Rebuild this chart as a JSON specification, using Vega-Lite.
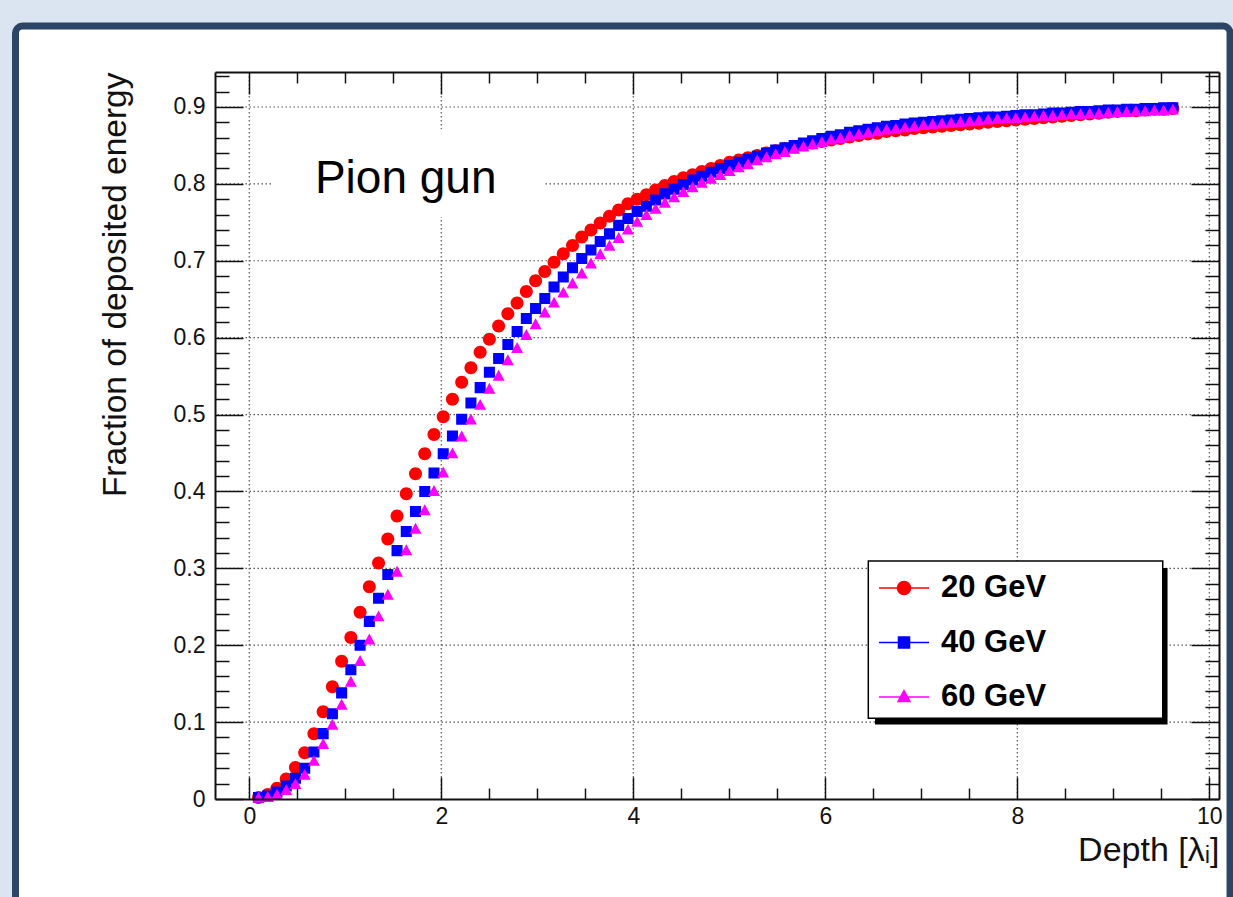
{
"$schema": "https://vega.github.io/schema/vega-lite/v6.json",
"width": 1004,
"height": 727,
"autosize": "none",
"padding": {"left": 215, "top": 72, "right": 14, "bottom": 98},
"background": "#dbe5f1",
"config": {"view": {"stroke": null}, "font": "Liberation Sans"},
"resolve": {"axis": {"x": "independent", "y": "independent"}},
"datasets": {
"curves": [
{"d":0.0962,"20 GeV":0.002,"40 GeV":0.002,"60 GeV":0.001},
{"d":0.1924,"20 GeV":0.006,"40 GeV":0.004,"60 GeV":0.002},
{"d":0.2886,"20 GeV":0.014,"40 GeV":0.009,"60 GeV":0.005},
{"d":0.3848,"20 GeV":0.026,"40 GeV":0.017,"60 GeV":0.011},
{"d":0.481,"20 GeV":0.041,"40 GeV":0.027,"60 GeV":0.019},
{"d":0.5772,"20 GeV":0.060,"40 GeV":0.040,"60 GeV":0.031},
{"d":0.6734,"20 GeV":0.085,"40 GeV":0.061,"60 GeV":0.049},
{"d":0.7696,"20 GeV":0.1135,"40 GeV":0.085,"60 GeV":0.071},
{"d":0.8658,"20 GeV":0.146,"40 GeV":0.111,"60 GeV":0.096},
{"d":0.962,"20 GeV":0.179,"40 GeV":0.138,"60 GeV":0.122},
{"d":1.0582,"20 GeV":0.210,"40 GeV":0.168,"60 GeV":0.152},
{"d":1.1544,"20 GeV":0.243,"40 GeV":0.200,"60 GeV":0.179},
{"d":1.2506,"20 GeV":0.276,"40 GeV":0.231,"60 GeV":0.207},
{"d":1.3468,"20 GeV":0.307,"40 GeV":0.261,"60 GeV":0.237},
{"d":1.443,"20 GeV":0.338,"40 GeV":0.292,"60 GeV":0.265},
{"d":1.5392,"20 GeV":0.368,"40 GeV":0.323,"60 GeV":0.295},
{"d":1.6354,"20 GeV":0.397,"40 GeV":0.348,"60 GeV":0.323},
{"d":1.7316,"20 GeV":0.423,"40 GeV":0.374,"60 GeV":0.351},
{"d":1.8278,"20 GeV":0.449,"40 GeV":0.400,"60 GeV":0.375},
{"d":1.924,"20 GeV":0.474,"40 GeV":0.424,"60 GeV":0.400},
{"d":2.0202,"20 GeV":0.497,"40 GeV":0.449,"60 GeV":0.424},
{"d":2.1164,"20 GeV":0.520,"40 GeV":0.472,"60 GeV":0.449},
{"d":2.2126,"20 GeV":0.542,"40 GeV":0.494,"60 GeV":0.471},
{"d":2.3088,"20 GeV":0.561,"40 GeV":0.515,"60 GeV":0.493},
{"d":2.405,"20 GeV":0.581,"40 GeV":0.535,"60 GeV":0.512},
{"d":2.5012,"20 GeV":0.598,"40 GeV":0.555,"60 GeV":0.533},
{"d":2.5974,"20 GeV":0.615,"40 GeV":0.573,"60 GeV":0.550},
{"d":2.6936,"20 GeV":0.631,"40 GeV":0.591,"60 GeV":0.570},
{"d":2.7898,"20 GeV":0.645,"40 GeV":0.608,"60 GeV":0.586},
{"d":2.886,"20 GeV":0.660,"40 GeV":0.625,"60 GeV":0.603},
{"d":2.9822,"20 GeV":0.674,"40 GeV":0.638,"60 GeV":0.617},
{"d":3.0784,"20 GeV":0.686,"40 GeV":0.651,"60 GeV":0.632},
{"d":3.1746,"20 GeV":0.698,"40 GeV":0.666,"60 GeV":0.645},
{"d":3.2708,"20 GeV":0.709,"40 GeV":0.679,"60 GeV":0.658},
{"d":3.367,"20 GeV":0.720,"40 GeV":0.691,"60 GeV":0.670},
{"d":3.4632,"20 GeV":0.731,"40 GeV":0.703,"60 GeV":0.683},
{"d":3.5594,"20 GeV":0.740,"40 GeV":0.714,"60 GeV":0.696},
{"d":3.6556,"20 GeV":0.749,"40 GeV":0.725,"60 GeV":0.708},
{"d":3.7518,"20 GeV":0.758,"40 GeV":0.735,"60 GeV":0.719},
{"d":3.848,"20 GeV":0.766,"40 GeV":0.746,"60 GeV":0.729},
{"d":3.9442,"20 GeV":0.774,"40 GeV":0.755,"60 GeV":0.740},
{"d":4.0404,"20 GeV":0.780,"40 GeV":0.764,"60 GeV":0.750},
{"d":4.1366,"20 GeV":0.786,"40 GeV":0.771,"60 GeV":0.759},
{"d":4.2328,"20 GeV":0.792,"40 GeV":0.779,"60 GeV":0.767},
{"d":4.329,"20 GeV":0.798,"40 GeV":0.787,"60 GeV":0.775},
{"d":4.4252,"20 GeV":0.803,"40 GeV":0.793,"60 GeV":0.782},
{"d":4.5214,"20 GeV":0.808,"40 GeV":0.799,"60 GeV":0.789},
{"d":4.6176,"20 GeV":0.812,"40 GeV":0.805,"60 GeV":0.795},
{"d":4.7138,"20 GeV":0.816,"40 GeV":0.810,"60 GeV":0.801},
{"d":4.81,"20 GeV":0.820,"40 GeV":0.815,"60 GeV":0.806},
{"d":4.9062,"20 GeV":0.824,"40 GeV":0.820,"60 GeV":0.811},
{"d":5.0024,"20 GeV":0.828,"40 GeV":0.824,"60 GeV":0.816},
{"d":5.0986,"20 GeV":0.831,"40 GeV":0.828,"60 GeV":0.821},
{"d":5.1948,"20 GeV":0.834,"40 GeV":0.832,"60 GeV":0.825},
{"d":5.291,"20 GeV":0.837,"40 GeV":0.836,"60 GeV":0.830},
{"d":5.3872,"20 GeV":0.840,"40 GeV":0.840,"60 GeV":0.834},
{"d":5.4834,"20 GeV":0.843,"40 GeV":0.844,"60 GeV":0.838},
{"d":5.5796,"20 GeV":0.846,"40 GeV":0.847,"60 GeV":0.841},
{"d":5.6758,"20 GeV":0.848,"40 GeV":0.850,"60 GeV":0.845},
{"d":5.772,"20 GeV":0.851,"40 GeV":0.853,"60 GeV":0.848},
{"d":5.8682,"20 GeV":0.853,"40 GeV":0.856,"60 GeV":0.851},
{"d":5.9644,"20 GeV":0.855,"40 GeV":0.859,"60 GeV":0.854},
{"d":6.0606,"20 GeV":0.857,"40 GeV":0.862,"60 GeV":0.857},
{"d":6.1568,"20 GeV":0.859,"40 GeV":0.864,"60 GeV":0.859},
{"d":6.253,"20 GeV":0.861,"40 GeV":0.867,"60 GeV":0.862},
{"d":6.3492,"20 GeV":0.863,"40 GeV":0.869,"60 GeV":0.864},
{"d":6.4454,"20 GeV":0.865,"40 GeV":0.871,"60 GeV":0.866},
{"d":6.5416,"20 GeV":0.866,"40 GeV":0.873,"60 GeV":0.868},
{"d":6.6378,"20 GeV":0.868,"40 GeV":0.875,"60 GeV":0.870},
{"d":6.734,"20 GeV":0.869,"40 GeV":0.876,"60 GeV":0.871},
{"d":6.8302,"20 GeV":0.870,"40 GeV":0.878,"60 GeV":0.873},
{"d":6.9264,"20 GeV":0.872,"40 GeV":0.879,"60 GeV":0.874},
{"d":7.0226,"20 GeV":0.873,"40 GeV":0.880,"60 GeV":0.876},
{"d":7.1188,"20 GeV":0.874,"40 GeV":0.881,"60 GeV":0.877},
{"d":7.215,"20 GeV":0.875,"40 GeV":0.882,"60 GeV":0.878},
{"d":7.3112,"20 GeV":0.876,"40 GeV":0.883,"60 GeV":0.879},
{"d":7.4074,"20 GeV":0.877,"40 GeV":0.884,"60 GeV":0.880},
{"d":7.5036,"20 GeV":0.878,"40 GeV":0.885,"60 GeV":0.881},
{"d":7.5998,"20 GeV":0.879,"40 GeV":0.886,"60 GeV":0.882},
{"d":7.696,"20 GeV":0.880,"40 GeV":0.887,"60 GeV":0.883},
{"d":7.7922,"20 GeV":0.881,"40 GeV":0.887,"60 GeV":0.884},
{"d":7.8884,"20 GeV":0.882,"40 GeV":0.888,"60 GeV":0.885},
{"d":7.9846,"20 GeV":0.883,"40 GeV":0.889,"60 GeV":0.885},
{"d":8.0808,"20 GeV":0.884,"40 GeV":0.890,"60 GeV":0.886},
{"d":8.177,"20 GeV":0.885,"40 GeV":0.890,"60 GeV":0.887},
{"d":8.2732,"20 GeV":0.886,"40 GeV":0.891,"60 GeV":0.888},
{"d":8.3694,"20 GeV":0.887,"40 GeV":0.892,"60 GeV":0.888},
{"d":8.4656,"20 GeV":0.888,"40 GeV":0.892,"60 GeV":0.889},
{"d":8.5618,"20 GeV":0.889,"40 GeV":0.893,"60 GeV":0.890},
{"d":8.658,"20 GeV":0.890,"40 GeV":0.894,"60 GeV":0.890},
{"d":8.7542,"20 GeV":0.891,"40 GeV":0.894,"60 GeV":0.891},
{"d":8.8504,"20 GeV":0.892,"40 GeV":0.895,"60 GeV":0.891},
{"d":8.9466,"20 GeV":0.893,"40 GeV":0.896,"60 GeV":0.892},
{"d":9.0428,"20 GeV":0.894,"40 GeV":0.896,"60 GeV":0.893},
{"d":9.139,"20 GeV":0.895,"40 GeV":0.897,"60 GeV":0.893},
{"d":9.2352,"20 GeV":0.895,"40 GeV":0.897,"60 GeV":0.894},
{"d":9.3314,"20 GeV":0.896,"40 GeV":0.898,"60 GeV":0.894},
{"d":9.4276,"20 GeV":0.897,"40 GeV":0.898,"60 GeV":0.895},
{"d":9.5238,"20 GeV":0.897,"40 GeV":0.899,"60 GeV":0.895},
{"d":9.62,"20 GeV":0.898,"40 GeV":0.899,"60 GeV":0.896}
],
"xgrid": [{"g":0},{"g":2},{"g":4},{"g":6},{"g":8},{"g":10}],
"ygrid": [{"g":0.1},{"g":0.2},{"g":0.3},{"g":0.4},{"g":0.5},{"g":0.6},{"g":0.7},{"g":0.8},{"g":0.9}],
"one": [{}]
},
"layer": [
{
"data": {"name": "one"},
"mark": {"type": "rect", "fill": "white", "stroke": "#2c4566", "strokeWidth": 7, "cornerRadius": 7},
"encoding": {
"x": {"datum": -2.435, "type": "quantitative", "scale": {"domain": [-0.357, 10.101], "nice": false, "zero": false},
"axis": {"orient": "bottom", "zindex": 1, "values": [0, 2, 4, 6, 8, 10], "tickSize": -22, "tickWidth": 1.5, "tickColor": "#111", "domain": true, "domainColor": "#111", "domainWidth": 2, "labelFontSize": 23, "labelColor": "#111", "labelPadding": 28, "labelFont": "Liberation Sans", "labelFlush": false, "labelOverlap": false, "grid": false, "format": "d", "title": "Depth [λᵢ]", "titleFontSize": 34, "titleFontWeight": "normal", "titleColor": "#111", "titleFont": "Liberation Sans", "titleAnchor": "end", "titleAlign": "right", "titleBaseline": "alphabetic", "titleX": 1004, "titleY": 61}},
"x2": {"datum": 10.216},
"y": {"datum": 1.0052, "type": "quantitative", "scale": {"domain": [0, 0.9455], "nice": false, "zero": false},
"axis": {"orient": "left", "zindex": 1, "values": [0, 0.1, 0.2, 0.3, 0.4, 0.5, 0.6, 0.7, 0.8, 0.9], "tickSize": -28, "tickWidth": 1.5, "tickColor": "#111", "domain": true, "domainColor": "#111", "domainWidth": 2, "labelFontSize": 23, "labelColor": "#111", "labelPadding": 38, "labelFont": "Liberation Sans", "labelFlush": false, "labelOverlap": false, "grid": false, "format": ".1~f", "title": "Fraction of deposited energy", "titleFontSize": 33.5, "titleFontWeight": "normal", "titleColor": "#111", "titleFont": "Liberation Sans", "titleAnchor": "end", "titleAlign": "right", "titleAngle": 270, "titleBaseline": "alphabetic", "titleX": -90, "titleY": 0}},
"y2": {"datum": -0.14}
}
},
{
"data": {"name": "xgrid"},
"mark": {"type": "rule", "color": "#555", "strokeWidth": 1.2, "strokeDash": [1.5, 2.5]},
"encoding": {"x": {"field": "g", "type": "quantitative", "scale": {"domain": [-0.357, 10.101], "nice": false, "zero": false}, "axis": null}}
},
{
"data": {"name": "ygrid"},
"mark": {"type": "rule", "color": "#555", "strokeWidth": 1.2, "strokeDash": [1.5, 2.5]},
"encoding": {"y": {"field": "g", "type": "quantitative", "scale": {"domain": [0, 0.9455], "nice": false, "zero": false}, "axis": null}}
},
{
"data": {"name": "one"},
"mark": {"type": "rect", "fill": "white"},
"encoding": {
"x": {"datum": 0.233, "type": "quantitative", "scale": {"domain": [-0.357, 10.101], "nice": false, "zero": false},
"axis": {"orient": "bottom", "zindex": 1, "values": [0.5, 1, 1.5, 2.5, 3, 3.5, 4.5, 5, 5.5, 6.5, 7, 7.5, 8.5, 9, 9.5], "tickSize": -11, "tickWidth": 1.5, "tickColor": "#111", "domain": false, "labels": false, "grid": false, "title": null}},
"x2": {"datum": 3.08},
"y": {"datum": 0.871, "type": "quantitative", "scale": {"domain": [0, 0.9455], "nice": false, "zero": false},
"axis": {"orient": "left", "zindex": 1, "values": [0.02, 0.04, 0.06, 0.08, 0.12, 0.14, 0.16, 0.18, 0.22, 0.24, 0.26, 0.28, 0.32, 0.34, 0.36, 0.38, 0.42, 0.44, 0.46, 0.48, 0.52, 0.54, 0.56, 0.58, 0.62, 0.64, 0.66, 0.68, 0.72, 0.74, 0.76, 0.78, 0.82, 0.84, 0.86, 0.88, 0.92, 0.94], "tickSize": -14, "tickWidth": 1.5, "tickColor": "#111", "domain": false, "labels": false, "grid": false, "title": null}},
"y2": {"datum": 0.757}
}
},
{
"data": {"name": "one"},
"mark": {"type": "rect", "fill": "black"},
"encoding": {
"x": {"datum": 6.518, "type": "quantitative", "scale": {"domain": [-0.357, 10.101], "nice": false, "zero": false},
"axis": {"orient": "top", "zindex": 1, "values": [0, 2, 4, 6, 8, 10], "tickSize": -22, "tickWidth": 1.5, "tickColor": "#111", "domain": true, "domainColor": "#111", "domainWidth": 2, "labels": false, "grid": false, "title": null}},
"x2": {"datum": 9.565},
"y": {"datum": 0.3004, "type": "quantitative", "scale": {"domain": [0, 0.9455], "nice": false, "zero": false},
"axis": {"orient": "right", "zindex": 1, "values": [0, 0.1, 0.2, 0.3, 0.4, 0.5, 0.6, 0.7, 0.8, 0.9], "tickSize": -28, "tickWidth": 1.5, "tickColor": "#111", "domain": true, "domainColor": "#111", "domainWidth": 2, "labels": false, "grid": false, "title": null}},
"y2": {"datum": 0.0969}
}
},
{
"data": {"name": "one"},
"mark": {"type": "rect", "fill": "white", "stroke": "black", "strokeWidth": 1.5},
"encoding": {
"x": {"datum": 6.448, "type": "quantitative", "scale": {"domain": [-0.357, 10.101], "nice": false, "zero": false},
"axis": {"orient": "top", "zindex": 1, "values": [0.5, 1, 1.5, 2.5, 3, 3.5, 4.5, 5, 5.5, 6.5, 7, 7.5, 8.5, 9, 9.5], "tickSize": -11, "tickWidth": 1.5, "tickColor": "#111", "domain": false, "labels": false, "grid": false, "title": null}},
"x2": {"datum": 9.515},
"y": {"datum": 0.3095, "type": "quantitative", "scale": {"domain": [0, 0.9455], "nice": false, "zero": false},
"axis": {"orient": "right", "zindex": 1, "values": [0.02, 0.04, 0.06, 0.08, 0.12, 0.14, 0.16, 0.18, 0.22, 0.24, 0.26, 0.28, 0.32, 0.34, 0.36, 0.38, 0.42, 0.44, 0.46, 0.48, 0.52, 0.54, 0.56, 0.58, 0.62, 0.64, 0.66, 0.68, 0.72, 0.74, 0.76, 0.78, 0.82, 0.84, 0.86, 0.88, 0.92, 0.94], "tickSize": -14, "tickWidth": 1.5, "tickColor": "#111", "domain": false, "labels": false, "grid": false, "title": null}},
"y2": {"datum": 0.1049}
}
},
{
"data": {"name": "curves"},
"transform": [{"fold": ["20 GeV", "40 GeV", "60 GeV"], "as": ["series", "frac"]}],
"mark": {"type": "point", "filled": true, "size": 169, "opacity": 1},
"encoding": {
"x": {"field": "d", "type": "quantitative", "scale": {"domain": [-0.357, 10.101], "nice": false, "zero": false}, "axis": null},
"y": {"field": "frac", "type": "quantitative", "scale": {"domain": [0, 0.9455], "nice": false, "zero": false}, "axis": null},
"order": {"field": "series", "type": "ordinal", "sort": "ascending"},
"strokeOpacity": {"value": 0},
"color": {"field": "series", "type": "nominal",
"scale": {"domain": ["20 GeV", "40 GeV", "60 GeV"], "range": ["#ff0000", "#0000ff", "#ff00ff"]},
"legend": {"orient": "none", "legendX": 673.5, "legendY": 500.5, "title": null, "padding": 0, "fillColor": null, "strokeColor": null, "symbolSize": 169, "symbolStrokeWidth": 1.5, "labelFontSize": 31, "labelFontWeight": "bold", "labelFont": "Liberation Sans", "labelColor": "black", "labelOffset": 21.5, "rowPadding": 22.5, "labelLimit": 0}},
"stroke": {"field": "series", "type": "nominal",
"scale": {"domain": ["20 GeV", "40 GeV", "60 GeV"], "range": ["#ff0000", "#0000ff", "#ff00ff"]},
"legend": {"orient": "none", "legendX": 673.5, "legendY": 500.5, "title": null, "padding": 0, "fillColor": null, "strokeColor": null, "symbolSize": 169, "symbolStrokeWidth": 1.5, "labelFontSize": 31, "labelFontWeight": "bold", "labelFont": "Liberation Sans", "labelColor": "black", "labelOffset": 21.5, "rowPadding": 22.5, "labelLimit": 0}},
"shape": {"field": "series", "type": "nominal",
"scale": {"domain": ["20 GeV", "40 GeV", "60 GeV"], "range": ["M-3.85,0H3.85M1,0A1,1,0,1,1,-1,0A1,1,0,1,1,1,0Z", "M-3.85,0H3.85M-0.85,-0.85H0.85V0.85H-0.85Z", "M-3.85,0H3.85M0,-0.98L0.92,0.7H-0.92Z"]},
"legend": {"orient": "none", "legendX": 673.5, "legendY": 500.5, "title": null, "padding": 0, "fillColor": null, "strokeColor": null, "symbolSize": 169, "symbolStrokeWidth": 1.5, "labelFontSize": 31, "labelFontWeight": "bold", "labelFont": "Liberation Sans", "labelColor": "black", "labelOffset": 21.5, "rowPadding": 22.5, "labelLimit": 0}}
}
},
{
"data": {"name": "one"},
"mark": {"type": "text", "text": "Pion gun", "fontSize": 46, "font": "Liberation Sans", "align": "left", "baseline": "alphabetic", "color": "black"},
"encoding": {
"x": {"datum": 0.684, "type": "quantitative", "scale": {"domain": [-0.357, 10.101], "nice": false, "zero": false}, "axis": null},
"y": {"datum": 0.788, "type": "quantitative", "scale": {"domain": [0, 0.9455], "nice": false, "zero": false}, "axis": null}
}
}
]
}
